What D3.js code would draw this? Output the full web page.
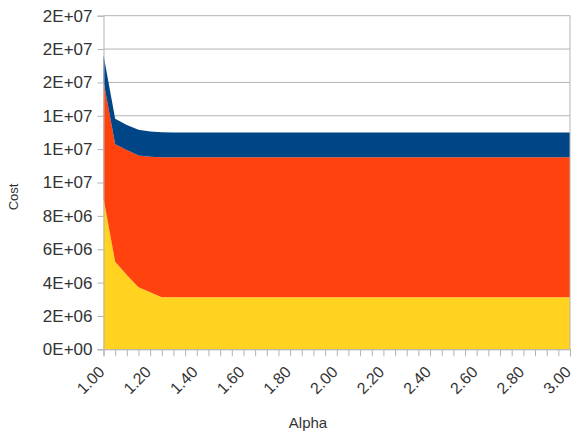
<!DOCTYPE html>
<html><head><meta charset="utf-8">
<script src="https://cdn.jsdelivr.net/npm/d3@7"></script>
<style>
html,body{margin:0;padding:0;background:#fff;}
svg{display:block;font-family:"Liberation Sans",Arial,sans-serif;}
</style></head>
<body><svg id="c" width="574" height="440"></svg>
<script>
const alpha = [1.00,1.05,1.10,1.15,1.20,1.25,1.30,1.35,1.40,1.45,1.50,1.55,1.60,1.65,1.70,1.75,1.80,1.85,1.90,1.95,2.00,2.05,2.10,2.15,2.20,2.25,2.30,2.35,2.40,2.45,2.50,2.55,2.60,2.65,2.70,2.75,2.80,2.85,2.90,2.95,3.00];
const seriesYellow = [9050000,5250000,4450000,3720000,3420000,3120000,3120000,3120000,3120000,3120000,3120000,3120000,3120000,3120000,3120000,3120000,3120000,3120000,3120000,3120000,3120000,3120000,3120000,3120000,3120000,3120000,3120000,3120000,3120000,3120000,3120000,3120000,3120000,3120000,3120000,3120000,3120000,3120000,3120000,3120000,3120000];
const seriesRed = [7000000,7050000,7500000,7900000,8130000,8400000,8400000,8400000,8400000,8400000,8400000,8400000,8400000,8400000,8400000,8400000,8400000,8400000,8400000,8400000,8400000,8400000,8400000,8400000,8400000,8400000,8400000,8400000,8400000,8400000,8400000,8400000,8400000,8400000,8400000,8400000,8400000,8400000,8400000,8400000,8400000];
const seriesBlue = [1600000,1520000,1500000,1540000,1510000,1500000,1480000,1480000,1480000,1480000,1480000,1480000,1480000,1480000,1480000,1480000,1480000,1480000,1480000,1480000,1480000,1480000,1480000,1480000,1480000,1480000,1480000,1480000,1480000,1480000,1480000,1480000,1480000,1480000,1480000,1480000,1480000,1480000,1480000,1480000,1480000];
const yTickValues = [0,2000000,4000000,6000000,8000000,10000000,12000000,14000000,16000000,18000000,20000000];
const yTickLabels = ["0E+00","2E+06","4E+06","6E+06","8E+06","1E+07","1E+07","1E+07","2E+07","2E+07","2E+07"];
const xLabelValues = [1.00,1.20,1.40,1.60,1.80,2.00,2.20,2.40,2.60,2.80,3.00];
const xLabelTexts = ["1.00","1.20","1.40","1.60","1.80","2.00","2.20","2.40","2.60","2.80","3.00"];
const seriesKeys = ["yellow","red","blue"];
const seriesColors = ["#ffd320","#ff420e","#004586"];

const svg = d3.select("#c");
const L = 103.5, R = 570, T = 15.7, B = 349.3;
const x = d3.scaleLinear().domain([1,3]).range([L,R]);
const y = d3.scaleLinear().domain([0,20000000]).range([B,T]);

const table = alpha.map((a,i)=>({a, yellow:seriesYellow[i], red:seriesRed[i], blue:seriesBlue[i]}));
const stacked = d3.stack().keys(seriesKeys)(table);

svg.append("g").selectAll("line").data(yTickValues).join("line")
  .attr("x1",L).attr("x2",R).attr("y1",d=>y(d)).attr("y2",d=>y(d))
  .attr("stroke","#b3b3b3").attr("stroke-width",1);

const area = d3.area().x(d=>x(d.data.a)).y0(d=>y(d[0])).y1(d=>y(d[1]));
svg.append("g").selectAll("path").data(stacked).join("path")
  .attr("d",area).attr("fill",(d,i)=>seriesColors[i]);

svg.append("line").attr("x1",R).attr("x2",R).attr("y1",T).attr("y2",B).attr("stroke","#b3b3b3");

const yAxis = d3.axisLeft(y).tickValues(yTickValues).tickSize(6).tickPadding(5)
  .tickFormat((d,i)=>yTickLabels[i]);
const gy = svg.append("g").attr("transform",`translate(${L},0)`).call(yAxis);
gy.select(".domain").attr("stroke","#b3b3b3");
gy.selectAll(".tick line").attr("stroke","#b3b3b3");
gy.selectAll(".tick text").attr("fill","#333").style("font-size","17px").style("font-family","Liberation Sans, Arial, sans-serif");

const xAxis = d3.axisBottom(x).tickValues(alpha).tickSize(7).tickFormat("");
const gx = svg.append("g").attr("transform",`translate(0,${B})`).call(xAxis);
gx.select(".domain").attr("stroke","#b3b3b3");
gx.selectAll(".tick line").attr("stroke","#b3b3b3");

svg.append("g").selectAll("text").data(xLabelValues).join("text")
  .attr("transform",d=>`translate(${x(d)+2},373) rotate(-45)`)
  .attr("text-anchor","end").attr("fill","#333").style("font-size","16px")
  .text((d,i)=>xLabelTexts[i]);

svg.append("text").attr("x",308).attr("y",427.5).attr("text-anchor","middle")
  .attr("fill","#333").style("font-size","15px").text("Alpha");
svg.append("text").attr("transform","translate(18,197) rotate(-90)").attr("text-anchor","middle")
  .attr("fill","#333").style("font-size","13px").text("Cost");
</script></body></html>
